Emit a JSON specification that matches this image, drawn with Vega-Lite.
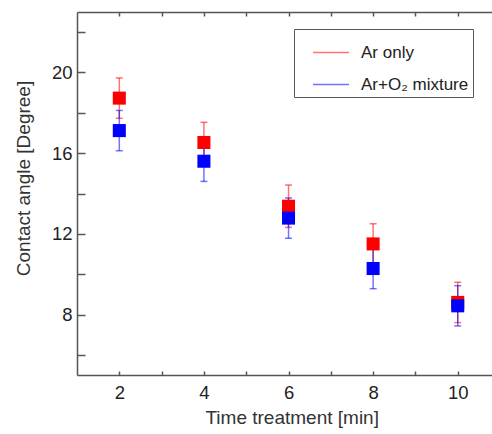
{
  "$schema": "https://vega.github.io/schema/vega-lite/v6.json",
  "width": 415,
  "height": 363,
  "autosize": "none",
  "padding": {"left": 77, "top": 12, "right": 0, "bottom": 59},
  "background": "white",
  "config": {
    "view": {"stroke": null},
    "font": "Liberation Sans",
    "axis": {
      "grid": false,
      "domainColor": "#555555",
      "domainWidth": 1.5,
      "tickColor": "#555555",
      "tickWidth": 1.5,
      "labelFont": "Liberation Sans",
      "titleFont": "Liberation Sans",
      "labelFontSize": 18.5,
      "titleFontSize": 19,
      "labelColor": "#222222",
      "titleColor": "#333333",
      "titleFontWeight": "normal"
    }
  },
  "data": {
    "values": [
      {"t": 2, "series": "Ar only", "angle": 18.73, "err": 1.0},
      {"t": 4, "series": "Ar only", "angle": 16.53, "err": 1.0},
      {"t": 6, "series": "Ar only", "angle": 13.37, "err": 1.05},
      {"t": 8, "series": "Ar only", "angle": 11.5, "err": 1.0},
      {"t": 10, "series": "Ar only", "angle": 8.6, "err": 1.0},
      {"t": 2, "series": "Ar+O₂ mixture", "angle": 17.12, "err": 1.0},
      {"t": 4, "series": "Ar+O₂ mixture", "angle": 15.6, "err": 1.0},
      {"t": 6, "series": "Ar+O₂ mixture", "angle": 12.78, "err": 1.0},
      {"t": 8, "series": "Ar+O₂ mixture", "angle": 10.28, "err": 1.0},
      {"t": 10, "series": "Ar+O₂ mixture", "angle": 8.43, "err": 1.0}
    ]
  },
  "layer": [
    {
      "mark": {"type": "errorbar", "ticks": {"size": 7}, "opacity": 0.55, "thickness": 1.5},
      "encoding": {
        "x": {
          "field": "t", "type": "quantitative",
          "scale": {"domain": [1, 10.81], "nice": false, "zero": false},
          "axis": {
            "orient": "bottom",
            "values": [2, 3, 4, 5, 6, 7, 8, 9, 10],
            "labelExpr": "datum.value % 2 === 0 ? datum.label : ''",
            "tickSize": -4,
            "labelPadding": 12,
            "title": "Time treatment [min]",
            "titleX": 214.7,
            "titleY": 33,
            "titleBaseline": "top"
          }
        },
        "y": {
          "field": "angle", "type": "quantitative",
          "scale": {"domain": [5, 23], "nice": false, "zero": false},
          "axis": {
            "values": [6, 8, 10, 12, 14, 16, 18, 20, 22],
            "labelExpr": "datum.value % 4 === 0 ? datum.label : ''",
            "tickSize": -8,
            "labelPadding": 13,
            "title": "Contact angle [Degree]",
            "titleY": 166,
            "titleX": -44,
            "titleBaseline": "bottom"
          }
        },
        "yError": {"field": "err"},
        "color": {
          "field": "series", "type": "nominal",
          "scale": {"domain": ["Ar only", "Ar+O₂ mixture"], "range": ["#ff0000", "#0000ff"]},
          "legend": {
            "title": null,
            "orient": "none",
            "legendX": 217,
            "legendY": 17,
            "symbolType": "stroke",
            "symbolSize": 1296,
            "symbolStrokeWidth": 1.5,
            "symbolOffset": 13.5,
            "labelFont": "Liberation Sans",
            "labelFontSize": 17,
            "labelColor": "#222222",
            "labelOffset": 11,
            "labelExpr": "datum.label + '\u00a0\u00a0'",
            "strokeColor": "#555555",
            "padding": 4.5,
            "rowPadding": 5
          }
        }
      }
    },
    {
      "mark": {"type": "square", "size": 170, "opacity": 1, "filled": true},
      "encoding": {
        "x": {
          "field": "t", "type": "quantitative",
          "scale": {"domain": [1, 10.81], "nice": false, "zero": false},
          "axis": {
            "orient": "top",
            "values": [2, 3, 4, 5, 6, 7, 8, 9, 10],
            "labels": false,
            "title": null,
            "tickSize": -4
          }
        },
        "y": {"field": "angle", "type": "quantitative", "scale": {"domain": [5, 23], "nice": false, "zero": false}},
        "color": {"field": "series", "type": "nominal", "legend": null}
      }
    }
  ],
  "resolve": {"scale": {"x": "independent"}, "axis": {"x": "independent"}}
}
